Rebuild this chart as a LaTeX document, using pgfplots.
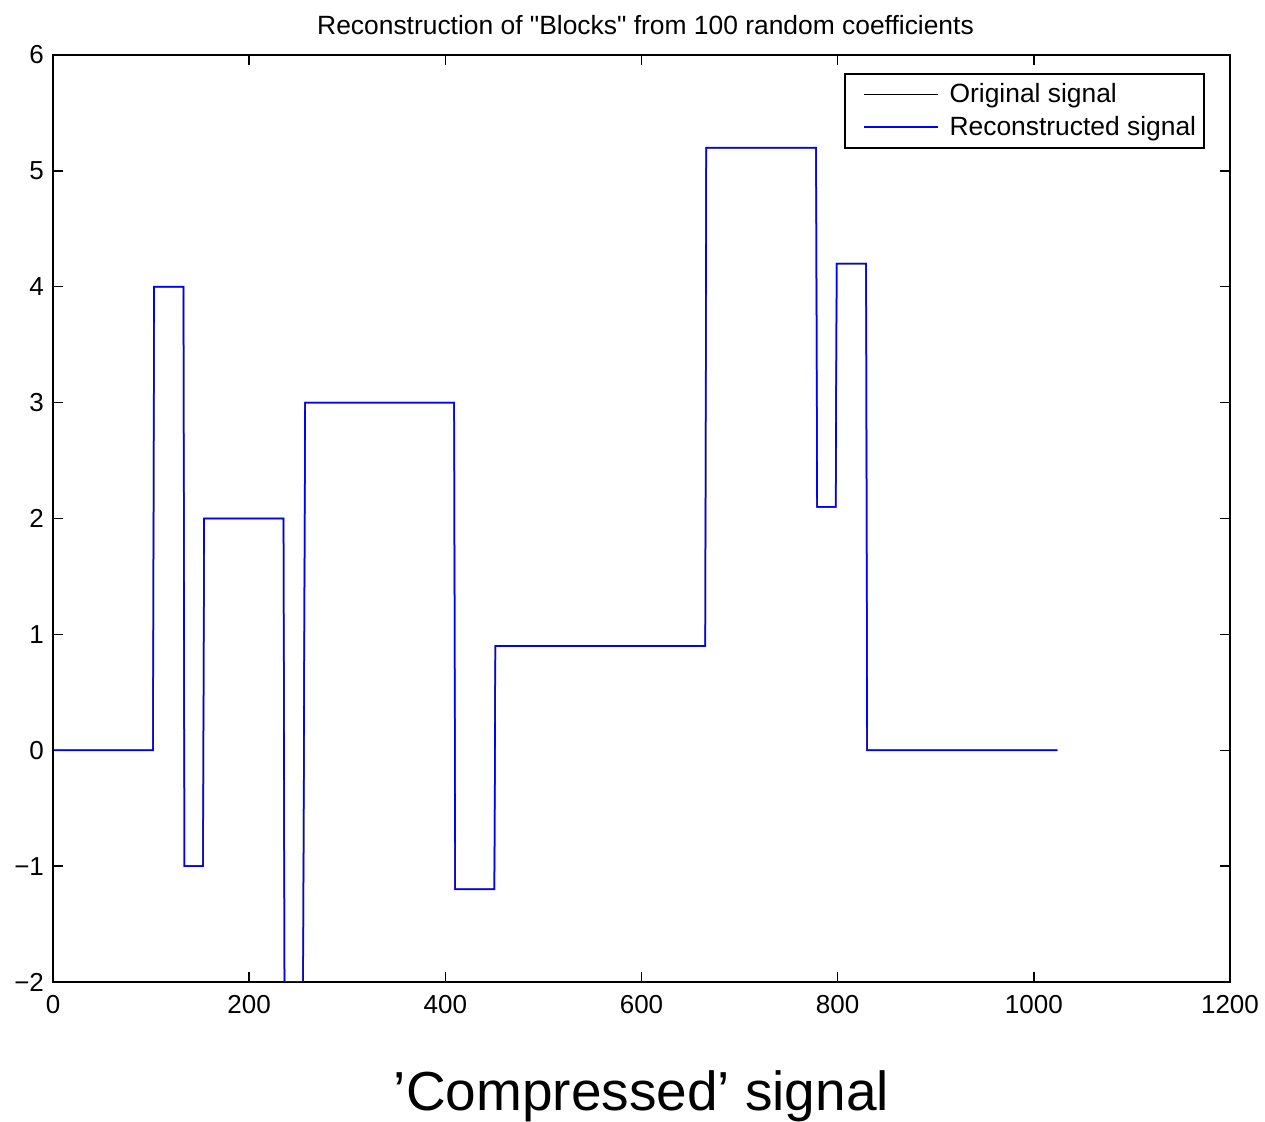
\documentclass[border=0pt]{standalone}
\usepackage{pgfplots}
\pgfplotsset{compat=1.18}
\usepackage{fontspec}
\setmainfont{Liberation Sans}
\newfontfamily\qfont{Liberation Sans}[Ligatures=ResetAll]
\begin{document}
\begin{tikzpicture}
\useasboundingbox (-26.5pt,-70pt) rectangle (606pt,491pt);
\begin{axis}[
  at={(0,0)}, anchor=south west,
  scale only axis, width=588.5pt, height=463.5pt,
  xmin=0, xmax=1200, ymin=-2, ymax=6,
  xtick={0,200,...,1200}, ytick={-2,-1,...,6},
  tick align=inside, major tick length=5pt,
  xtick pos=both, ytick pos=both,
  axis line style={line width=0.8pt},
  every tick/.style={line width=0.7pt, black},
  /pgf/number format/assume math mode=true,
  /pgf/number format/set thousands separator={},
  ticklabel style={font=\fontsize{13}{15}\selectfont},
  xticklabel style={yshift=-3pt},
  yticklabel style={xshift=-1pt},
  yticklabel={\ifdim\tick pt<0pt −\pgfmathparse{abs(\tick)}\pgfmathprintnumber{\pgfmathresult}\else\pgfmathprintnumber{\tick}\fi},
  title={Reconstruction of {\qfont"}Blocks{\qfont"} from 100 random coefficients},
  title style={font=\fontsize{13.2}{15}\selectfont, at={(0.5,1)}, anchor=south, yshift=0.5pt, xshift=2pt},
  xlabel={’Compressed’ signal},
  xlabel style={font=\fontsize{27.5}{30}\selectfont, yshift=-21.5pt},
  legend style={at={(0.9787,0.9806)}, anchor=north east, draw=black, line width=0.8pt,
    font=\fontsize{13.2}{15.5}\selectfont, inner xsep=4pt, inner ysep=3pt,
    nodes={inner xsep=0pt},
    row sep=1pt, column sep=5.5pt, cells={anchor=west}},
  legend image code/.code={\path (0pt,0pt); \draw[#1, line width=0.6pt] (5pt,0pt) -- (42pt,0pt);},
]
\addplot[black, line width=0.7pt] coordinates {
(1,0)(102,0)(103,4)(133,4)(134,-1)(153,-1)(154,2)(235,2)(236,-2)(255,-2)(256,0.5)(257,3)(409,3)(410,-1.2)(450,-1.2)(451,0.9)(665,0.9)(666,5.2)(778,5.2)(779,2.1)(798,2.1)(799,4.2)(829,4.2)(830,0)(1024,0)
};
\addlegendentry{Original signal}
\addplot[blue, line width=0.8pt] coordinates {
(1,0)(102,0)(103,4)(133,4)(134,-1)(153,-1)(154,2)(235,2)(236,-2)(255,-2)(256,0.5)(257,3)(409,3)(410,-1.2)(450,-1.2)(451,0.9)(665,0.9)(666,5.2)(778,5.2)(779,2.1)(798,2.1)(799,4.2)(829,4.2)(830,0)(1024,0)
};
\addlegendentry{Reconstructed signal}
\end{axis}
\end{tikzpicture}
\end{document}
